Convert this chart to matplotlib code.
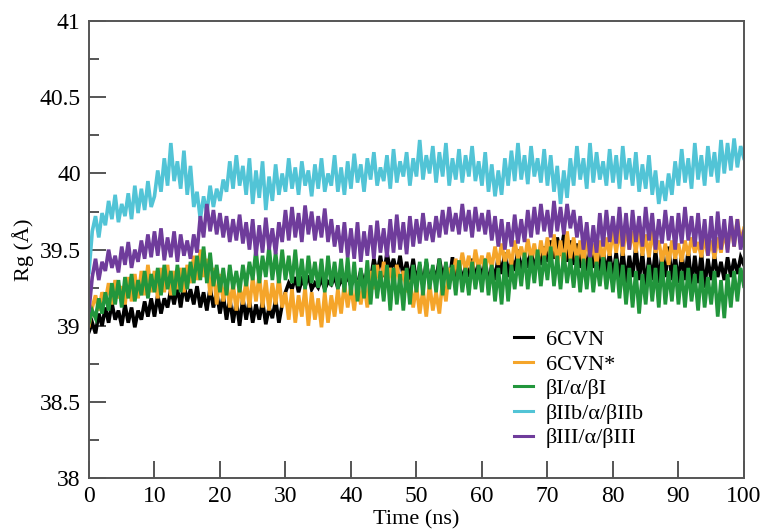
import numpy as np
import matplotlib
matplotlib.use("Agg")
import matplotlib.pyplot as plt

plt.rcParams['font.family'] = ['Liberation Serif', 'DejaVu Serif']

# time grid (ns), sampled every 0.5 ns
time_ns = np.arange(0, 100.5, 0.5)

labels = ["6CVN", "6CVN*", "βI/α/βI", "βIIb/α/βIIb", "βIII/α/βIII"]
colors = ["#000000", "#f5a52a", "#22963c", "#52c4d6", "#6f3c9b"]

rg_6cvn = [
    38.96, 39.02, 38.95, 39.08, 39.00, 39.12, 39.02, 39.15, 39.04, 39.10, 39.00, 39.14, 39.02, 39.12, 38.99, 39.10, 39.04, 39.16, 39.06, 39.18,
    39.06, 39.20, 39.08, 39.18, 39.12, 39.24, 39.14, 39.26, 39.12, 39.27, 39.16, 39.24, 39.14, 39.26, 39.12, 39.22, 39.10, 39.25, 39.12, 39.22,
    39.08, 39.20, 39.04, 39.18, 39.02, 39.16, 39.00, 39.18, 39.04, 39.17, 39.02, 39.14, 39.04, 39.16, 39.01, 39.12, 39.05, 39.17, 39.02, 39.14,
    39.22, 39.28, 39.24, 39.32, 39.22, 39.30, 39.26, 39.33, 39.24, 39.28, 39.25, 39.31, 39.24, 39.29, 39.27, 39.32, 39.25, 39.30, 39.27, 39.33,
    39.26, 39.32, 39.27, 39.36, 39.28, 39.36, 39.30, 39.44, 39.34, 39.46, 39.32, 39.48, 39.36, 39.44, 39.34, 39.46, 39.32, 39.42, 39.30, 39.44,
    39.28, 39.40, 39.26, 39.42, 39.28, 39.38, 39.30, 39.44, 39.32, 39.40, 39.28, 39.45, 39.30, 39.42, 39.28, 39.40, 39.32, 39.44, 39.30, 39.42,
    39.30, 39.44, 39.26, 39.40, 39.30, 39.46, 39.34, 39.48, 39.32, 39.46, 39.36, 39.50, 39.34, 39.48, 39.38, 39.50, 39.36, 39.48, 39.40, 39.52,
    39.42, 39.56, 39.44, 39.58, 39.46, 39.60, 39.42, 39.56, 39.40, 39.54, 39.38, 39.52, 39.36, 39.50, 39.38, 39.54, 39.36, 39.50, 39.34, 39.48,
    39.32, 39.48, 39.30, 39.50, 39.28, 39.46, 39.32, 39.52, 39.30, 39.48, 39.26, 39.45, 39.30, 39.50, 39.28, 39.48, 39.32, 39.52, 39.30, 39.46,
    39.28, 39.48, 39.30, 39.50, 39.26, 39.46, 39.28, 39.48, 39.25, 39.44, 39.30, 39.46, 39.32, 39.42, 39.30, 39.45, 39.32, 39.44, 39.34, 39.45,
    39.40,
]

rg_6cvn_star = [
    39.00, 39.12, 39.20, 39.10, 39.22, 39.16, 39.28, 39.14, 39.30, 39.18, 39.26, 39.14, 39.32, 39.16, 39.34, 39.18, 39.36, 39.20, 39.40, 39.22,
    39.36, 39.18, 39.38, 39.22, 39.40, 39.20, 39.36, 39.24, 39.38, 39.22, 39.40, 39.28, 39.46, 39.30, 39.50, 39.32, 39.44, 39.20, 39.38, 39.14,
    39.34, 39.16, 39.30, 39.12, 39.28, 39.10, 39.26, 39.14, 39.30, 39.12, 39.32, 39.16, 39.34, 39.12, 39.30, 39.10, 39.28, 39.14, 39.32, 39.12,
    39.22, 39.04, 39.24, 39.02, 39.20, 39.06, 39.25, 39.00, 39.22, 39.04, 39.18, 38.99, 39.22, 39.02, 39.20, 39.06, 39.24, 39.08, 39.28, 39.12,
    39.26, 39.10, 39.30, 39.14, 39.28, 39.12, 39.36, 39.24, 39.40, 39.26, 39.42, 39.28, 39.38, 39.26, 39.40, 39.28, 39.36, 39.22, 39.30, 39.12,
    39.26, 39.08, 39.24, 39.06, 39.28, 39.10, 39.22, 39.08, 39.30, 39.16, 39.38, 39.30, 39.44, 39.34, 39.48, 39.36, 39.46, 39.34, 39.50, 39.38,
    39.46, 39.36, 39.48, 39.38, 39.52, 39.40, 39.54, 39.42, 39.50, 39.40, 39.56, 39.44, 39.52, 39.42, 39.57, 39.44, 39.54, 39.40, 39.56, 39.44,
    39.58, 39.42, 39.60, 39.40, 39.56, 39.38, 39.62, 39.44, 39.58, 39.42, 39.56, 39.40, 39.58, 39.44, 39.54, 39.40, 39.56, 39.42, 39.58, 39.46,
    39.62, 39.48, 39.64, 39.46, 39.66, 39.50, 39.62, 39.48, 39.64, 39.46, 39.60, 39.45, 39.62, 39.48, 39.56, 39.42, 39.54, 39.40, 39.56, 39.44,
    39.54, 39.42, 39.56, 39.46, 39.58, 39.48, 39.55, 39.45, 39.58, 39.46, 39.56, 39.44, 39.58, 39.48, 39.62, 39.50, 39.68, 39.52, 39.70, 39.55,
    39.64,
]

rg_bI = [
    39.02, 39.10, 39.05, 39.18, 39.08, 39.22, 39.10, 39.28, 39.14, 39.30, 39.12, 39.32, 39.18, 39.34, 39.16, 39.30, 39.20, 39.36, 39.18, 39.34,
    39.22, 39.38, 39.20, 39.40, 39.24, 39.36, 39.20, 39.40, 39.22, 39.38, 39.24, 39.42, 39.28, 39.46, 39.30, 39.52, 39.28, 39.48, 39.26, 39.40,
    39.22, 39.38, 39.20, 39.40, 39.24, 39.36, 39.22, 39.40, 39.26, 39.42, 39.30, 39.50, 39.28, 39.46, 39.32, 39.52, 39.30, 39.48, 39.28, 39.50,
    39.30, 39.46, 39.28, 39.50, 39.26, 39.44, 39.24, 39.46, 39.28, 39.42, 39.25, 39.44, 39.22, 39.46, 39.26, 39.42, 39.24, 39.44, 39.22, 39.45,
    39.20, 39.42, 39.16, 39.38, 39.18, 39.43, 39.14, 39.40, 39.18, 39.36, 39.16, 39.40, 39.10, 39.38, 39.14, 39.34, 39.10, 39.38, 39.14, 39.40,
    39.22, 39.42, 39.20, 39.44, 39.24, 39.40, 39.22, 39.44, 39.20, 39.42, 39.24, 39.40, 39.20, 39.43, 39.22, 39.38, 39.20, 39.42, 39.24, 39.40,
    39.22, 39.44, 39.20, 39.40, 39.16, 39.38, 39.14, 39.42, 39.16, 39.40, 39.24, 39.44, 39.26, 39.48, 39.24, 39.46, 39.28, 39.50, 39.26, 39.46,
    39.30, 39.52, 39.26, 39.46, 39.24, 39.48, 39.28, 39.44, 39.25, 39.46, 39.22, 39.44, 39.24, 39.46, 39.22, 39.42, 39.26, 39.45, 39.24, 39.42,
    39.22, 39.44, 39.18, 39.40, 39.14, 39.38, 39.12, 39.36, 39.08, 39.34, 39.14, 39.40, 39.16, 39.38, 39.12, 39.42, 39.14, 39.36, 39.16, 39.40,
    39.14, 39.36, 39.12, 39.38, 39.16, 39.34, 39.10, 39.36, 39.12, 39.32, 39.14, 39.36, 39.06, 39.30, 39.05, 39.34, 39.12, 39.36, 39.16, 39.38,
    39.26,
]

rg_bIIb = [
    39.35, 39.62, 39.72, 39.58, 39.74, 39.66, 39.82, 39.70, 39.86, 39.68, 39.80, 39.72, 39.87, 39.70, 39.92, 39.74, 39.90, 39.76, 39.95, 39.78,
    39.85, 40.02, 39.88, 40.10, 39.92, 40.20, 39.95, 40.08, 39.90, 40.15, 39.86, 40.05, 39.78, 39.88, 39.70, 39.85, 39.74, 39.92, 39.78, 39.90,
    39.82, 39.96, 39.88, 40.08, 39.90, 40.12, 39.92, 40.05, 39.86, 40.10, 39.80, 40.02, 39.84, 40.08, 39.76, 39.98, 39.82, 40.06, 39.86, 40.00,
    39.88, 40.10, 39.90, 40.04, 39.86, 40.08, 39.92, 40.02, 39.85, 40.06, 39.90, 40.10, 39.88, 40.00, 39.92, 40.12, 39.88, 40.04, 39.86, 40.08,
    39.90, 40.13, 39.94, 40.06, 39.88, 40.10, 39.96, 40.14, 39.92, 40.04, 39.95, 40.12, 39.90, 40.16, 39.94, 40.08, 39.98, 40.14, 39.92, 40.10,
    39.98, 40.22, 39.96, 40.12, 40.00, 40.18, 39.94, 40.14, 39.98, 40.20, 39.92, 40.10, 39.96, 40.16, 39.94, 40.12, 39.98, 40.18, 39.95, 40.08,
    39.92, 40.14, 39.88, 40.06, 39.85, 40.02, 39.86, 40.10, 39.92, 40.15, 39.95, 40.20, 39.96, 40.12, 39.93, 40.18, 39.98, 40.10, 39.94, 40.16,
    39.92, 40.12, 39.88, 40.05, 39.80, 40.02, 39.84, 40.10, 39.92, 40.18, 39.96, 40.10, 39.90, 40.20, 39.94, 40.14, 39.96, 40.08, 39.92, 40.16,
    39.94, 40.12, 39.90, 40.18, 39.96, 40.10, 39.92, 40.14, 39.88, 40.06, 39.90, 40.12, 39.86, 40.02, 39.80, 39.95, 39.82, 40.00, 39.86, 40.08,
    39.92, 40.16, 39.94, 40.10, 39.90, 40.20, 39.96, 40.12, 39.92, 40.18, 39.98, 40.14, 39.94, 40.22, 40.00, 40.20, 40.02, 40.23, 40.04, 40.18,
    40.10,
]

rg_bIII = [
    39.10, 39.32, 39.44, 39.30, 39.42, 39.36, 39.50, 39.38, 39.46, 39.35, 39.52, 39.40, 39.55, 39.38, 39.50, 39.42, 39.56, 39.44, 39.60, 39.45,
    39.62, 39.46, 39.64, 39.43, 39.58, 39.45, 39.62, 39.42, 39.60, 39.46, 39.56, 39.44, 39.60, 39.48, 39.72, 39.58, 39.80, 39.62, 39.76, 39.60,
    39.74, 39.58, 39.72, 39.55, 39.70, 39.56, 39.73, 39.54, 39.68, 39.50, 39.70, 39.46, 39.66, 39.48, 39.71, 39.50, 39.64, 39.47, 39.68, 39.55,
    39.76, 39.56, 39.78, 39.58, 39.74, 39.55, 39.79, 39.60, 39.75, 39.56, 39.72, 39.58, 39.77, 39.55, 39.70, 39.52, 39.66, 39.48, 39.68, 39.45,
    39.64, 39.44, 39.68, 39.42, 39.62, 39.46, 39.66, 39.44, 39.69, 39.48, 39.64, 39.45, 39.70, 39.48, 39.73, 39.50, 39.68, 39.47, 39.72, 39.52,
    39.70, 39.54, 39.74, 39.56, 39.68, 39.55, 39.72, 39.58, 39.76, 39.60, 39.78, 39.62, 39.74, 39.60, 39.80, 39.62, 39.76, 39.58, 39.78, 39.62,
    39.74, 39.60, 39.76, 39.56, 39.72, 39.52, 39.70, 39.50, 39.68, 39.52, 39.73, 39.54, 39.70, 39.55, 39.76, 39.58, 39.78, 39.60, 39.80, 39.62,
    39.76, 39.58, 39.82, 39.62, 39.78, 39.60, 39.80, 39.64, 39.76, 39.58, 39.72, 39.50, 39.68, 39.45, 39.66, 39.48, 39.74, 39.52, 39.76, 39.55,
    39.72, 39.54, 39.78, 39.52, 39.74, 39.50, 39.76, 39.55, 39.72, 39.52, 39.78, 39.56, 39.74, 39.50, 39.70, 39.54, 39.76, 39.56, 39.72, 39.50,
    39.74, 39.54, 39.78, 39.56, 39.72, 39.52, 39.74, 39.50, 39.70, 39.46, 39.72, 39.48, 39.75, 39.50, 39.70, 39.48, 39.72, 39.52, 39.70, 39.50,
    39.62,
]

series = [rg_6cvn, rg_6cvn_star, rg_bI, rg_bIIb, rg_bIII]

fig = plt.figure(figsize=(7.63, 5.30), dpi=100)
ax = fig.add_axes([0.1166, 0.098, 0.8584, 0.862])

for vals, lab, col in zip(series, labels, colors):
    ax.plot(time_ns, vals, color=col, lw=2.6, label=lab, solid_joinstyle='miter')

ax.set_xlim(0, 100)
ax.set_ylim(38, 41)
ax.set_xticks(np.arange(0, 101, 10))
ax.set_yticks([38, 38.5, 39, 39.5, 40, 40.5, 41])
ax.set_yticklabels(["38", "38.5", "39", "39.5", "40", "40.5", "41"])
ax.set_yticks([38.25, 38.75, 39.25, 39.75, 40.25, 40.75], minor=True)

spine_col = "#555555"
for s in ax.spines.values():
    s.set_color(spine_col)
    s.set_linewidth(1.4)
ax.tick_params(axis='both', which='major', direction='in', length=12, width=1.4,
               color=spine_col, labelsize=17, pad=6)
ax.tick_params(axis='y', which='minor', direction='in', length=7, width=1.4, color=spine_col)
ax.tick_params(top=False, right=False)

ax.set_xlabel("Time (ns)", fontsize=16, labelpad=2)
ax.set_ylabel("Rg (Å)", fontsize=16, labelpad=4)

leg = ax.legend(loc='center', bbox_to_anchor=(0.748, 0.195), frameon=False,
                fontsize=16, handlelength=0.85, handletextpad=0.6, labelspacing=0.18)
for line in leg.get_lines():
    line.set_linewidth(2.2)

fig.savefig("out.png", dpi=100)
